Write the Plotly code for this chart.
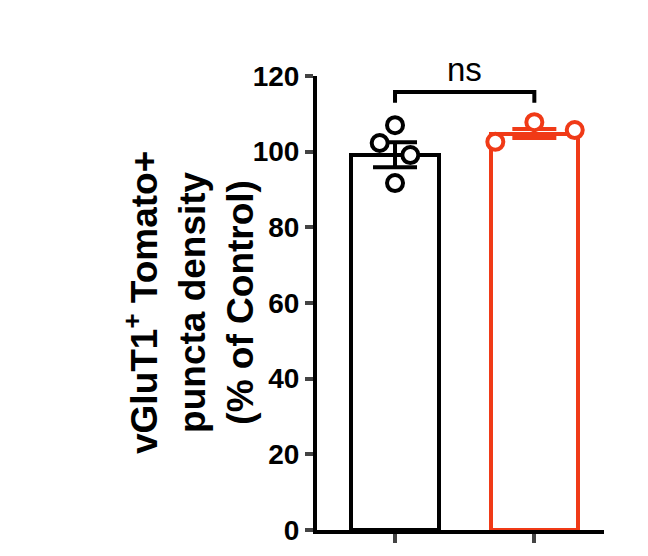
import plotly.graph_objects as go

groups = ["Control", "Treated"]
means = [99.2, 104.8]
sems = [3.3, 1.2]
control_pts = [107.0, 102.3, 99.1, 91.7]
treated_pts = [102.6, 107.8, 105.7]
colors = ["black", "#f03a17"]

fig = go.Figure()
for i, (m, s, pts, c) in enumerate(zip(means, sems, [control_pts, treated_pts], colors)):
    fig.add_trace(go.Bar(x=[i], y=[m], width=0.625, marker=dict(color="white", line=dict(color=c, width=4))))
    fig.add_trace(go.Scatter(x=[i], y=[m], mode="markers", marker=dict(size=1, color=c),
                             error_y=dict(type="data", array=[s], color=c, thickness=4, width=22)))
offsets = [[0, -0.11, 0.11, 0], [-0.28, 0, 0.29]]
for i, (pts, c) in enumerate(zip([control_pts, treated_pts], colors)):
    fig.add_trace(go.Scatter(x=[i + o for o in offsets[i]], y=pts, mode="markers", cliponaxis=False,
                             marker=dict(size=16, color="white", line=dict(color=c, width=4))))

# significance bracket
fig.add_trace(go.Scatter(x=[0, 0, 1, 1], y=[112.9, 115.8, 115.8, 112.9], mode="lines", cliponaxis=False,
                         line=dict(color="black", width=4)))
fig.add_annotation(x=0.5, y=115.8, text="ns", showarrow=False, yanchor="bottom", yshift=2,
                   font=dict(size=33, color="black", family="Arial"))
fig.add_annotation(xref="paper", yref="paper", x=0, xanchor="center", yanchor="middle", xshift=-128, y=0.5,
                   textangle=-90, showarrow=False,
                   text="<b>vGluT1<sup>+</sup> Tomato+<br>puncta density<br>(% of Control)</b>",
                   font=dict(size=37, color="black", family="Arial"))

fig.update_layout(
    width=648, height=556, showlegend=False, plot_bgcolor="white", paper_bgcolor="white",
    margin=dict(l=309, r=52, t=68, b=34), bargap=0,
    font=dict(family="Arial", color="black"),
)
fig.update_xaxes(range=[-0.56, 1.5], tickvals=[0, 1], ticktext=["", ""], ticks="outside", ticklen=9,
                 tickwidth=4, showline=True, linewidth=4, linecolor="black", showgrid=False, zeroline=False)
fig.update_yaxes(range=[0, 120], tickvals=[0, 20, 40, 60, 80, 100, 120], ticks="outside", ticklen=8,
                 tickwidth=4, showline=True, linewidth=4, linecolor="black", showgrid=False, zeroline=False,
                 tickfont=dict(size=28, family="Arial", color="black", weight="bold"))
fig.write_html("out.html")
